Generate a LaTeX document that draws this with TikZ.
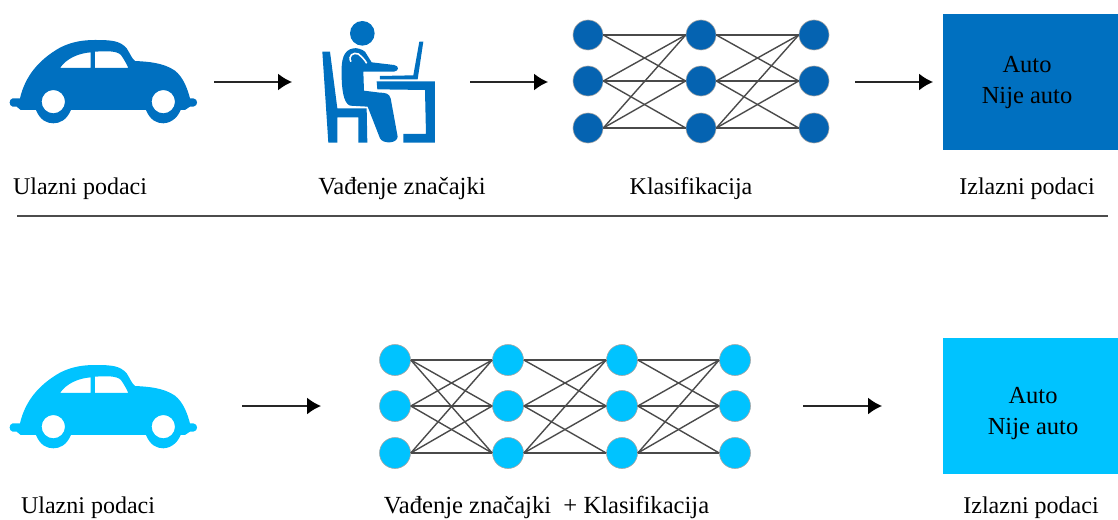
\documentclass[tikz,border=0pt]{standalone}
\usepackage{fontspec}
\setmainfont{Liberation Serif}
\usetikzlibrary{arrows.meta}
\definecolor{carA}{HTML}{0070C0}
\definecolor{netA}{HTML}{0563B1}
\definecolor{carB}{HTML}{00C3FF}
\definecolor{edgeC}{HTML}{4A4A4A}
\tikzset{
  lbl/.style={font=\fontsize{24}{27}\selectfont,text=black,inner sep=0pt,anchor=base},
  lblw/.style={font=\fontsize{24.6}{27}\selectfont,text=black,inner sep=0pt,anchor=base},
  flow/.style={draw=black!85,line width=1.6pt,-{Latex[length=14pt,width=17pt,color=black]}},
  neuronA/.style={circle,fill=netA,draw=gray!70,line width=.6pt,minimum size=30pt,inner sep=0pt},
  neuronB/.style={circle,fill=carB,draw=gray!70,line width=.6pt,minimum size=31pt,inner sep=0pt},
  syn/.style={draw=edgeC,line width=1.4pt},
  outbox/.style={minimum width=175pt,minimum height=136pt,inner sep=0pt,anchor=north west},
  boxtxt/.style={font=\fontsize{24.5}{31}\selectfont,align=center,text=black,inner sep=0pt}
}
\newcommand{\carshape}[1]{%
  \fill[#1,even odd rule] (60,295) .. controls (75,230) and (115,180) .. (180,143)
   .. controls (215,125) and (250,120) .. (285,120) .. controls (335,120) and (360,122) .. (380,145)
   .. controls (390,160) and (395,175) .. (405,183) .. controls (445,185) and (490,188) .. (525,212)
   .. controls (550,232) and (562,265) .. (570,295) -- (580,295)
   .. controls (595,297) and (595,318) .. (580,320) -- (570,320) -- (555,330) -- (542,330)
   .. controls (530,360) and (505,370) .. (490,370) .. controls (470,370) and (450,360) .. (438,330)
   -- (213,330) .. controls (200,360) and (180,370) .. (160,370) .. controls (140,370) and (120,360) .. (108,330)
   -- (62,330) -- (50,320) -- (38,320) .. controls (26,318) and (26,297) .. (38,295) -- cycle
   (160,305) circle[radius=35] (490,305) circle[radius=35]
   (180,204) .. controls (200,175) and (235,160) .. (272,157) -- (272,204) -- cycle
   (285,155) .. controls (320,153) and (350,152) .. (363,165) .. controls (372,178) and (380,192) .. (385,204) -- (285,204) -- cycle;
}
\begin{document}
\begin{tikzpicture}[x=1pt,y=-1pt]
\useasboundingbox (0,0) rectangle (1118,519);
% cars
\begin{scope}[shift={(0,0)},x=0.3333pt,y=-0.3333pt]
\carshape{carA}
\end{scope}
\begin{scope}[shift={(0,325)},x=0.3333pt,y=-0.3333pt]
\carshape{carB}
\end{scope}
% person
\begin{scope}[shift={(300,0)},x=0.3333pt,y=-0.3333pt]
\fill[carA] (187,100) circle[radius=37];
\fill[carA] (67,155) -- (90,155) -- (112,325) -- (200,325) -- (202,428) -- (175,428) -- (175,352) -- (112,352) -- (112,428) -- (85,428) -- cycle;
\fill[carA] (160,145) .. controls (130,150) and (123,180) .. (125,225) .. controls (125,265) and (130,310) .. (150,317) -- (203,320) -- (240,415) .. controls (248,432) and (292,432) .. (293,410) -- (272,295) .. controls (268,280) and (255,278) .. (240,278) -- (192,272) -- (190,215) -- (282,215) .. controls (298,213) and (298,197) .. (282,195) -- (215,187) -- (195,155) .. controls (185,147) and (170,143) .. (160,145) -- cycle;
\draw[white,line width=1.6pt] (153,185) .. controls (143,168) and (160,155) .. (175,162) .. controls (185,170) and (195,180) .. (200,190);
\fill[carA] (358,125) -- (370,125) -- (353,238) -- (240,238) -- (240,228) -- (340,226) -- cycle;
\fill[carA] (230,244) -- (405,244) -- (405,428) -- (310,428) -- (310,402) -- (378,402) -- (375,270) -- (232,268) -- cycle;
\end{scope}
% arrows top
\coordinate (a1s) at (214,82); \coordinate (a1e) at (292,82);
\coordinate (a2s) at (470,82); \coordinate (a2e) at (548,82);
\coordinate (a3s) at (855,82); \coordinate (a3e) at (933,82);
\draw[flow] (a1s) -- (a1e);
\draw[flow] (a2s) -- (a2e);
\draw[flow] (a3s) -- (a3e);
% top network
\foreach \c/\x in {1/588,2/701,3/814}{
  \foreach \r/\y in {1/35,2/81,3/128}{
    \node[neuronA] (t\c\r) at (\x,\y) {};
  }
}
\foreach \a/\b in {1/2,2/3}{
  \foreach \i/\j in {1/1,1/2,2/1,2/2,2/3,3/1,3/2,3/3}{
    \draw[syn] (t\a\i.east) -- (t\b\j.west);
  }
}
% top output box
\node[outbox,fill=carA] (box1) at (943,14) {};
\node[boxtxt] (box1t) at (1027,82.5) {Auto\\Nije auto};
% divider
\coordinate (d1) at (17,216); \coordinate (d2) at (1108,216);
\draw[draw=black!70,line width=1.6pt] (d1) -- (d2);
% top labels
\node[lbl] (l1) at (80,194) {Ulazni podaci};
\node[lblw] (l2) at (402,194) {Vađenje značajki};
\node[lbl] (l3) at (691,194) {Klasifikacija};
\node[lbl] (l4) at (1027,194) {Izlazni podaci};
% bottom arrows
\coordinate (b1s) at (242,406); \coordinate (b1e) at (321,406);
\coordinate (b2s) at (803,406); \coordinate (b2e) at (882,406);
\draw[flow] (b1s) -- (b1e);
\draw[flow] (b2s) -- (b2e);
% bottom network
\foreach \c/\x in {1/395,2/508,3/622,4/735}{
  \foreach \r/\y in {1/360,2/406,3/453}{
    \node[neuronB] (n\c\r) at (\x,\y) {};
  }
}
\foreach \i in {1,2,3}{\foreach \j in {1,2,3}{\draw[syn] (n1\i.east) -- (n2\j.west);}}
\foreach \a/\b in {2/3,3/4}{
  \foreach \i/\j in {1/1,1/2,2/1,2/2,2/3,3/1,3/2,3/3}{
    \draw[syn] (n\a\i.east) -- (n\b\j.west);
  }
}
% bottom box
\node[outbox,fill=carB] (box2) at (943,338) {};
\node[boxtxt] (box2t) at (1033,414) {Auto\\Nije auto};
% bottom labels
\node[lbl] (l5) at (88,513) {Ulazni podaci};
\node[lblw] (l6) at (546.5,513) {Vađenje značajki\ \ + Klasifikacija};
\node[lbl] (l7) at (1031,513) {Izlazni podaci};
\end{tikzpicture}
\end{document}
